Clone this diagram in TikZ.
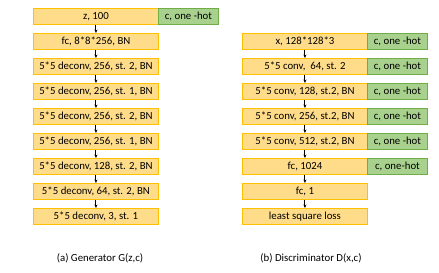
\documentclass[tikz,border=0pt]{standalone}
\usepackage{fontspec}
\setmainfont{Carlito}
\usetikzlibrary{arrows.meta}
\definecolor{yfill}{HTML}{FFDC8A}
\definecolor{yline}{HTML}{FFC000}
\definecolor{gfill}{HTML}{A9D18E}
\definecolor{gline}{HTML}{70AD47}
\begin{document}
\begin{tikzpicture}[x=1pt,y=-1pt,
  ybox/.style={draw=yline,fill=yfill,line width=0.9pt,minimum width=125pt,minimum height=16pt,inner sep=0pt,anchor=north west,font=\fontsize{10.8}{12}\selectfont},
  gbox/.style={draw=gline,fill=gfill,line width=0.9pt,minimum width=60pt,minimum height=16pt,inner sep=0pt,anchor=north west,font=\fontsize{10.8}{12}\selectfont},
  arr/.style={-{Stealth[length=3.5pt,width=3pt]},line width=1pt,black},
  captext/.style={font=\fontsize{10.8}{12}\selectfont}]
\useasboundingbox (0,0) rectangle (439,273);
% generator
\node[ybox] (g1) at (33,8) {z, 100};
\node[gbox] (gc) at (158,8) {c, one -hot};
\node[ybox] (g2) at (33,33) {fc, 8*8*256, BN};
\node[ybox] (g3) at (33,58) {5*5 deconv, 256, st. 2, BN};
\node[ybox] (g4) at (33,83) {5*5 deconv, 256, st. 1, BN};
\node[ybox] (g5) at (33,108) {5*5 deconv, 256, st. 2, BN};
\node[ybox] (g6) at (33,133) {5*5 deconv, 256, st. 1, BN};
\node[ybox] (g7) at (33,158) {5*5 deconv, 128, st. 2, BN};
\node[ybox] (g8) at (33,183) {5*5 deconv, 64, st. 2, BN};
\node[ybox] (g9) at (33,208) {5*5 deconv, 3, st. 1};
\foreach \a/\b in {g1/g2,g2/g3,g3/g4,g4/g5,g5/g6,g6/g7,g7/g8,g8/g9}
  \draw[arr] (\a.south) -- (\b.north);
% discriminator
\node[ybox] (d1) at (242,33) {x, 128*128*3};
\node[ybox] (d2) at (242,58) {5*5 conv,\ \ 64, st. 2};
\node[ybox] (d3) at (242,83) {5*5 conv, 128, st.2, BN};
\node[ybox] (d4) at (242,108) {5*5 conv, 256, st.2, BN};
\node[ybox] (d5) at (242,133) {5*5 conv, 512, st.2, BN};
\node[ybox] (d6) at (242,158) {fc, 1024};
\node[ybox] (d7) at (242,183) {fc, 1};
\node[ybox] (d8) at (242,208) {least square loss};
\node[gbox] (c1) at (367,33) {c, one -hot};
\node[gbox] (c2) at (367,58) {c, one -hot};
\node[gbox] (c3) at (367,83) {c, one -hot};
\node[gbox] (c4) at (367,108) {c, one -hot};
\node[gbox] (c5) at (367,133) {c, one -hot};
\node[gbox] (c6) at (367,158) {c, one-hot};
\foreach \a/\b in {d1/d2,d2/d3,d3/d4,d4/d5,d5/d6,d6/d7,d7/d8}
  \draw[arr] (\a.south) -- (\b.north);
\node[captext] (capa) at (100,258) {(a) Generator G(z,c)};
\node[captext] (capb) at (311,258) {(b) Discriminator D(x,c)};
\end{tikzpicture}
\end{document}
